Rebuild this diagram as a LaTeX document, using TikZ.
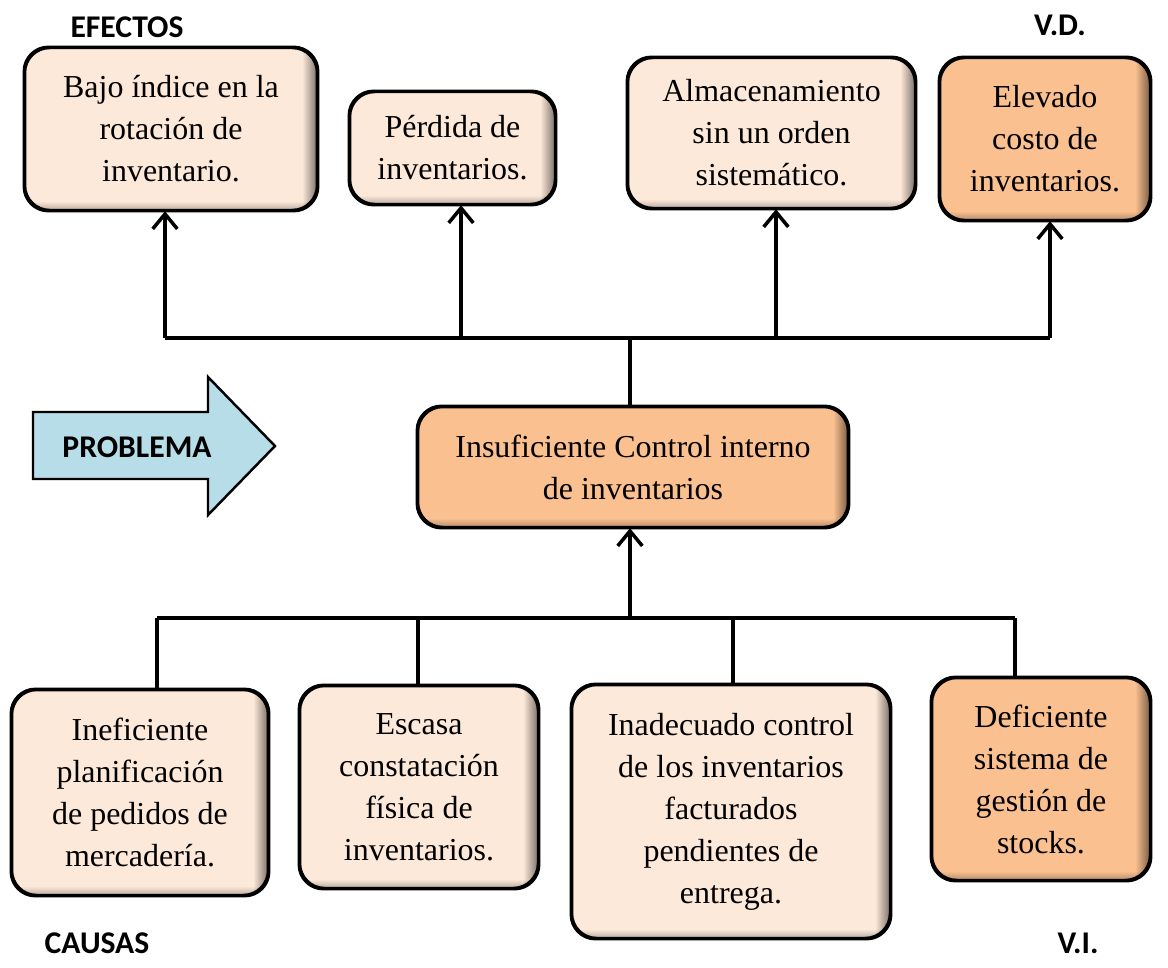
\documentclass[tikz,border=0pt]{standalone}
\usepackage{fontspec}
\setmainfont{Liberation Serif}
\newfontfamily\labfont{Carlito}
\usetikzlibrary{arrows.meta,fadings}
\definecolor{peach}{HTML}{FDE9D9}
\definecolor{orangeL}{HTML}{FAC090}
\definecolor{blueL}{HTML}{B7DDE8}
\newcommand\boxfont{\fontsize{18.2}{23.9}\selectfont}
\tikzset{
  box/.style={draw=black, line width=1.4pt, rounded corners=14pt, align=center,
    inner sep=0pt, font=\boxfont},
  lightbox/.style={box, fill=peach},
  darkbox/.style={box, fill=orangeL},
  conn/.style={line width=2pt},
  arr/.style={conn, -{Straight Barb[length=8.5pt,width=14pt,line width=2pt]}},
  lbl/.style={font=\labfont\bfseries\fontsize{18}{22}\selectfont, inner sep=0pt},
}
\newcommand\innershade[1]{%
  \begin{scope}
    \clip[rounded corners=14pt] (#1.south west) rectangle (#1.north east);
    \fill[black, opacity=0.55, path fading=west]
      ([xshift=-0.32cm]#1.north east) rectangle (#1.south east);
    \fill[black, opacity=0.3, path fading=north]
      ([yshift=0.2cm]#1.south west) rectangle (#1.south east);
  \end{scope}
  \draw[line width=1.4pt, rounded corners=14pt] (#1.south west) rectangle (#1.north east);
}
\begin{document}
\begin{tikzpicture}[x=0.02cm, y=-0.02cm]
\useasboundingbox (0,0) rectangle (1168,967);

% labels
\node[lbl] (efectos) at (127,27) {EFECTOS};
\node[lbl] (vd) at (1060,25) {V.D.};
\node[lbl] (causas) at (97,943) {CAUSAS};
\node[lbl] (vi) at (1078,943) {V.I.};

% effects
\node[lightbox, minimum width=5.84cm, minimum height=3.24cm] (e1) at (171,129)
  {Bajo índice en la\\rotación de\\inventario.};
\node[lightbox, minimum width=4.10cm, minimum height=2.24cm] (e2) at (452.5,148)
  {Pérdida de\\inventarios.};
\node[lightbox, minimum width=5.74cm, minimum height=3.00cm] (e3) at (771.5,133)
  {Almacenamiento\\sin un orden\\sistemático.};
\node[darkbox, minimum width=4.20cm, minimum height=3.24cm] (e4) at (1045,139)
  {Elevado\\costo de\\inventarios.};

% problem
\node[darkbox, minimum width=8.60cm, minimum height=2.40cm] (c) at (633,467)
  {Insuficiente Control interno\\de inventarios};

% causes
\node[lightbox, minimum width=5.12cm, minimum height=4.10cm] (b1) at (140,792.5)
  {Ineficiente\\planificación\\de pedidos de\\mercadería.};
\node[lightbox, minimum width=4.76cm, minimum height=4.04cm] (b2) at (419,787)
  {Escasa\\constatación\\física de\\inventarios.};
\node[lightbox, minimum width=6.36cm, minimum height=5.06cm] (b3) at (731,811.5)
  {Inadecuado control\\de los inventarios\\facturados\\pendientes de\\entrega.};
\node[darkbox, minimum width=4.36cm, minimum height=4.04cm] (b4) at (1041,779)
  {Deficiente\\sistema de\\gestión de\\stocks.};

\foreach \n in {e1,e2,e3,e4,c,b1,b2,b3,b4} {\innershade{\n}}

% PROBLEMA arrow
\draw[line width=1.4pt, fill=blueL, line join=miter]
  (33,412) -- (208,412) -- (208,377) -- (275,446) -- (208,515) -- (208,479)
  -- (33,479) -- cycle;
\node[lbl] (problema) at (137,447) {PROBLEMA};

% top connectors
\coordinate (t1) at (165,338);
\coordinate (t2) at (461,338);
\coordinate (t3) at (776,338);
\coordinate (t4) at (1050,338);
\coordinate (tc) at (630,338);
\draw[conn] (t1) -- (t4);
\draw[arr] (t1) -- (t1 |- e1.south);
\draw[arr] (t2) -- (t2 |- e2.south);
\draw[arr] (t3) -- (t3 |- e3.south);
\draw[arr] (t4) -- (t4 |- e4.south);
\draw[conn] (tc) -- (tc |- c.north);

% bottom connectors
\coordinate (u1) at (157,618);
\coordinate (u2) at (418,618);
\coordinate (u3) at (733,618);
\coordinate (u4) at (1015,618);
\coordinate (uc) at (630,618);
\draw[conn] (u1) -- (u4);
\draw[arr] (uc) -- (uc |- c.south);
\draw[conn] (u1) -- (u1 |- b1.north);
\draw[conn] (u2) -- (u2 |- b2.north);
\draw[conn] (u3) -- (u3 |- b3.north);
\draw[conn] (u4) -- (u4 |- b4.north);
\end{tikzpicture}
\end{document}
